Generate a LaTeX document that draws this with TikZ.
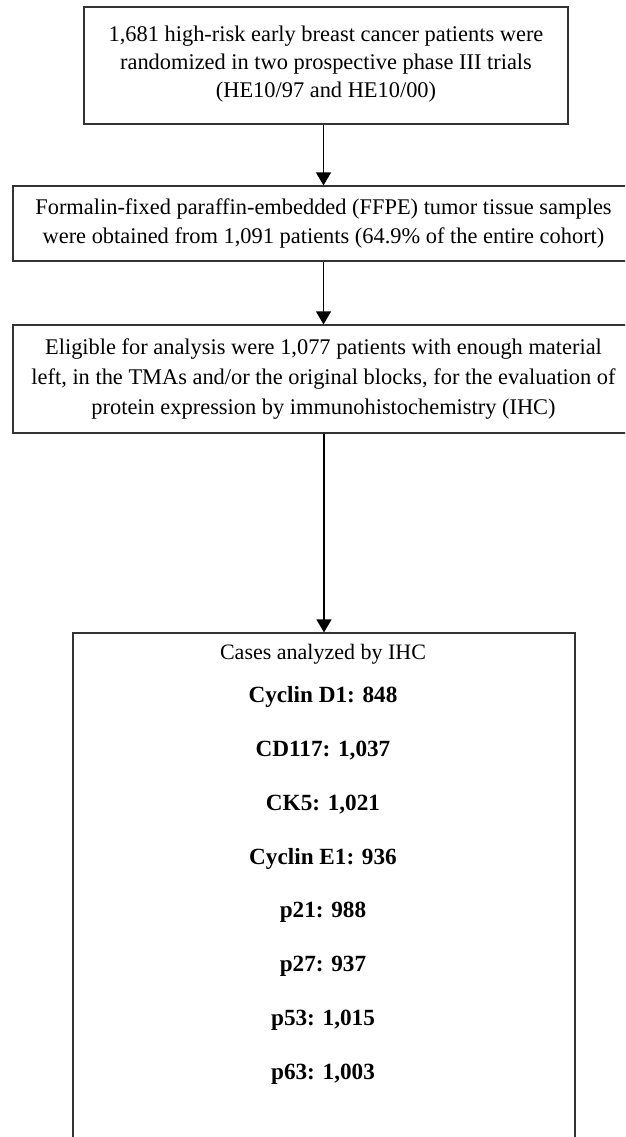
\documentclass[tikz,border=0pt]{standalone}
\usepackage{fontspec}
\setmainfont{Liberation Serif}
\usetikzlibrary{arrows.meta,positioning,calc}

\begin{document}
\begin{tikzpicture}[x=1pt, y=-1pt, >={Triangle[width=15pt,length=13pt]},
  box/.style={draw=black!80, line width=1.2pt, align=center, inner sep=0pt,
    font=\fontsize{22.4}{29.8}\selectfont},
  item/.style={font=\fontsize{23.2}{27}\selectfont\bfseries}]
\clip (0,0) rectangle (625,1137);
\node[box, minimum width=484pt, minimum height=117pt,
  font=\fontsize{22.4}{28}\selectfont] (trials) at (326,65.5)
  {1,681 high-risk early breast cancer patients were\\
   randomized in two prospective phase III trials\\
   (HE10/97 and HE10/00)\rule[-8pt]{0pt}{0pt}};
\node[box, minimum width=621pt, minimum height=75pt] (ffpe) at (323.5,223.5)
  {Formalin-fixed paraffin-embedded (FFPE) tumor tissue samples\\
   were obtained from 1,091 patients (64.9\% of the entire cohort)};
\node[box, minimum width=621pt, minimum height=108pt] (eligible) at (323.5,379)
  {Eligible for analysis were 1,077 patients with enough material\\
   left, in the TMAs and/or the original blocks, for the evaluation of\\
   protein expression by immunohistochemistry (IHC)};
\node[box, minimum width=502pt, minimum height=527pt] (ihc) at (324,896.5) {};
\node[font=\fontsize{22}{26}\selectfont] (cases) at (323,654) {Cases analyzed by IHC};
\foreach \name/\lab [count=\i] in {cycd/{Cyclin D1: 848}, cd/{CD117: 1,037},
    ck/{CK5: 1,021}, cyce/{Cyclin E1: 936}, pa/{p21: 988}, pb/{p27: 937},
    pc/{p53: 1,015}, pd/{p63: 1,003}}
  \node[item] (\name) at (323, 643.15+\i*53.85) {\lab};
% arrows between the boxes
\draw[->, line width=1.2pt] (trials.south -| ffpe.north) -- (ffpe.north);
\draw[->, line width=1.2pt] (ffpe) -- (eligible);
\draw[->, line width=1.2pt] (eligible.south -| ihc.north) -- (ihc.north);
\end{tikzpicture}
\end{document}
